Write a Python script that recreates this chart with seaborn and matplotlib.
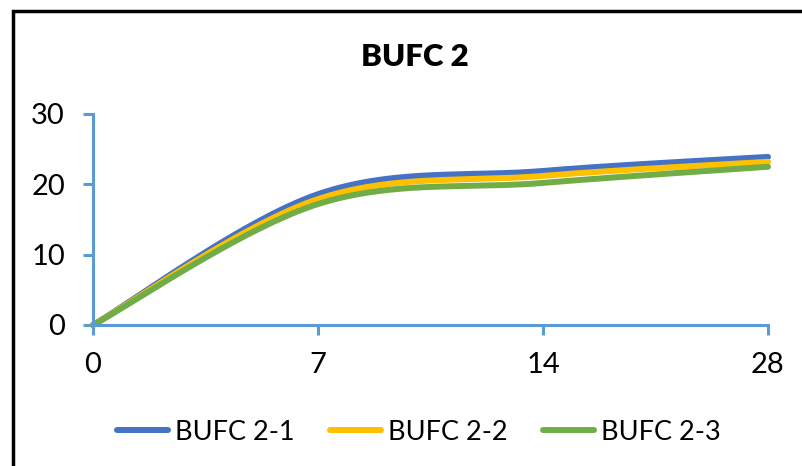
import numpy as np
import pandas as pd
import matplotlib
matplotlib.use("Agg")
import matplotlib.pyplot as plt
import seaborn as sns
from matplotlib.patches import Rectangle

# data
days = ["0", "7", "14", "28"]
bufc_2_1 = [0, 18.6, 21.9, 23.9]
bufc_2_2 = [0, 17.9, 21.2, 23.2]
bufc_2_3 = [0, 17.2, 20.2, 22.5]
series_names = ["BUFC 2-1", "BUFC 2-2", "BUFC 2-3"]
colors = ["#4472C4", "#FFC000", "#70AD47"]


def smooth(ys, steps=60):
    # Excel-style smoothed line: cubic bezier between category points
    pts = np.column_stack([np.arange(len(ys)), ys]).astype(float)
    ext = np.vstack([pts[0], pts, pts[-1]])
    xs_out, ys_out = [], []
    t = np.linspace(0, 1, steps)[:, None]
    for i in range(len(pts) - 1):
        p0, p3 = ext[i + 1], ext[i + 2]
        c1 = p0 + (ext[i + 2] - ext[i]) / 6
        c2 = p3 - (ext[i + 3] - ext[i + 1]) / 6
        b = ((1 - t) ** 3) * p0 + 3 * ((1 - t) ** 2) * t * c1 + 3 * (1 - t) * t ** 2 * c2 + t ** 3 * p3
        xs_out.extend(b[:, 0])
        ys_out.extend(b[:, 1])
    return xs_out, ys_out


def main():
    sns.set_style("white")
    plt.rcParams["font.family"] = ["Lato", "DejaVu Sans"]
    plt.rcParams["text.color"] = "black"

    frames = []
    for name, vals in zip(series_names, [bufc_2_1, bufc_2_2, bufc_2_3]):
        sx, sy = smooth(vals)
        frames.append(pd.DataFrame({"x": sx, "y": sy, "series": name}))
    df = pd.concat(frames, ignore_index=True)

    fig = plt.figure(figsize=(8.02, 4.66), dpi=100)
    ax = fig.add_axes([0.116, 0.3026, 0.8416, 0.4528])

    sns.lineplot(data=df, x="x", y="y", hue="series", palette=colors,
                 linewidth=4.3, sort=False, estimator=None, ax=ax,
                 solid_capstyle="round")

    ax.set_xlim(0, len(days) - 1)
    ax.set_ylim(0, 30)
    ax.set_xticks(range(len(days)))
    ax.set_xticklabels(days)
    ax.set_yticks([0, 10, 20, 30])
    ax.set_xlabel("")
    ax.set_ylabel("")

    axis_color = "#5B9BD5"
    for side in ["top", "right"]:
        ax.spines[side].set_visible(False)
    for side in ["left", "bottom"]:
        ax.spines[side].set_color(axis_color)
        ax.spines[side].set_linewidth(2.2)
    ax.tick_params(axis="both", bottom=True, left=True, colors=axis_color,
                   width=2.2, length=7.2, labelsize=21, labelcolor="black",
                   direction="out")
    ax.tick_params(axis="y", pad=13)
    ax.tick_params(axis="x", pad=12)
    for line in ax.lines:
        line.set_clip_on(False)

    fig.text(415 / 802, 1 - 57 / 466, "BUFC 2", fontsize=22.5,
             fontweight="heavy", color="black", ha="center", va="center")

    leg = ax.legend(loc="center", bbox_to_anchor=(419 / 802, 1 - 432 / 466),
                    bbox_transform=fig.transFigure, ncol=3, frameon=False,
                    fontsize=19.5, handlelength=1.9, columnspacing=1.3,
                    handletextpad=0.25)
    for h in leg.get_lines():
        h.set_linewidth(4.3)
    for txt in leg.get_texts():
        txt.set_color("black")

    fig.patches.append(Rectangle((13 / 802, -0.1), 1.2, 1 - 11 / 466 + 0.1,
                                 transform=fig.transFigure, fill=False,
                                 edgecolor="black", linewidth=2.5))

    fig.savefig("out.png", dpi=100)


if __name__ == "__main__":
    main()
